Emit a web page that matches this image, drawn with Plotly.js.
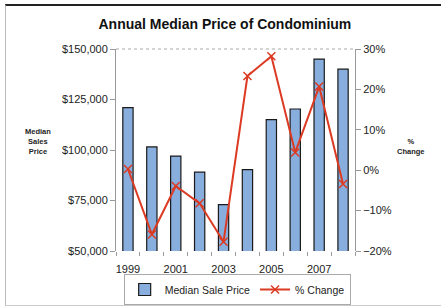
<!DOCTYPE html>
<html>
<head>
<meta charset="utf-8">
<script src="https://cdn.plot.ly/plotly-3.0.1.min.js"></script>
<style>
  html, body { margin: 0; padding: 0; background: #fff; }
  #wrap { position: relative; width: 441px; height: 307px; }
  #chart { width: 441px; height: 307px; }
  #frame { position: absolute; left: 5px; top: 4px; width: 436px; height: 302px;
           border-top: 2px solid #222; border-left: 1px solid #bbb; border-bottom: 1px solid #ccc;
           box-sizing: border-box; pointer-events: none; }
</style>
</head>
<body>
<div id="wrap">
  <div id="chart"></div>
  <div id="frame"></div>
</div>
<script>
const years = [1999, 2000, 2001, 2002, 2003, 2004, 2005, 2006, 2007, 2008];
const medianPrice = [121000, 101500, 97000, 89000, 73000, 90300, 115000, 120300, 145000, 140000];
const pctChange = [0.3, -15.9, -3.9, -8.2, -17.7, 23.3, 28.2, 4.4, 20.7, -3.4];
const yearTickLabels = ['1999', '2001', '2003', '2005', '2007'];
const yearTickVals = [1999, 2001, 2003, 2005, 2007];

const font = 'Liberation Sans, Arial, sans-serif';

const traces = [
  {
    type: 'bar',
    name: 'Median Sale Price',
    x: years,
    y: medianPrice,
    width: 0.43,
    marker: { color: '#88AEDE', line: { color: '#1a1a1a', width: 1.2 } },
    yaxis: 'y'
  },
  {
    type: 'scatter',
    mode: 'lines+markers',
    name: '% Change',
    x: years,
    y: pctChange,
    yaxis: 'y2',
    line: { color: '#DC3A22', width: 2 },
    marker: { symbol: 'x-thin', size: 8, color: '#DC3A22', line: { color: '#DC3A22', width: 1.5 } }
  }
];

const layout = {
  width: 441,
  height: 307,
  margin: { l: 116, r: 86, t: 49, b: 56, autoexpand: false },
  paper_bgcolor: '#fff',
  plot_bgcolor: '#fff',
  font: { family: font, size: 11, color: '#222' },
  title: {
    text: '<b>Annual Median Price of Condominium</b>',
    x: 0.51, xanchor: 'center', y: 0.92, yanchor: 'middle',
    font: { family: font, size: 14, color: '#111' }
  },
  showlegend: true,
  legend: {
    orientation: 'h',
    x: 0.507, xanchor: 'center',
    yref: 'container',
    y: 0.0065, yanchor: 'bottom',
    bordercolor: '#aaa', borderwidth: 1,
    font: { family: font, size: 10.5, color: '#222' },
    traceorder: 'normal'
  },
  xaxis: {
    range: [1998.5, 2008.5],
    tickvals: yearTickVals,
    ticktext: yearTickLabels,
    ticks: '',
    ticklabelstandoff: 10,
    showgrid: false,
    zeroline: false,
    showline: false,
    automargin: false,
    tickfont: { family: font, size: 11, color: '#222' },
    minor: { tick0: 1998.5, dtick: 1, ticks: 'outside', ticklen: 4, tickcolor: '#999', showgrid: false }
  },
  yaxis: {
    range: [50000, 150000],
    dtick: 25000,
    tickprefix: '$',
    tickformat: ',d',
    ticks: 'outside',
    ticklen: 5,
    tickcolor: '#999',
    showgrid: false,
    zeroline: false,
    showline: true,
    automargin: false,
    linecolor: '#999',
    linewidth: 1,
    tickfont: { family: font, size: 11, color: '#222' }
  },
  yaxis2: {
    overlaying: 'y',
    side: 'right',
    range: [-20, 30],
    dtick: 10,
    ticksuffix: '%',
    ticks: 'outside',
    ticklen: 5,
    tickcolor: '#999',
    showgrid: false,
    zeroline: false,
    showline: true,
    automargin: false,
    linecolor: '#999',
    linewidth: 1,
    tickfont: { family: font, size: 11, color: '#222' }
  },
  shapes: [
    { type: 'line', xref: 'paper', yref: 'paper', x0: 0, x1: 1, y0: 1, y1: 1,
      line: { color: '#aaa', width: 1, dash: 'dot' } }
  ],
  annotations: [
    { text: '<b>Median<br>Sales<br>Price</b>', xref: 'paper', yref: 'paper',
      x: -0.326, y: 0.54, xanchor: 'center', yanchor: 'middle', showarrow: false, align: 'center',
      font: { family: font, size: 7.5, color: '#222' } },
    { text: '<b>%<br>Change</b>', xref: 'paper', yref: 'paper',
      x: 1.234, y: 0.515, xanchor: 'center', yanchor: 'middle', showarrow: false, align: 'center',
      font: { family: font, size: 7.5, color: '#222' } }
  ]
};

Plotly.newPlot('chart', traces, layout, { displayModeBar: false, staticPlot: true });
</script>
</body>
</html>
